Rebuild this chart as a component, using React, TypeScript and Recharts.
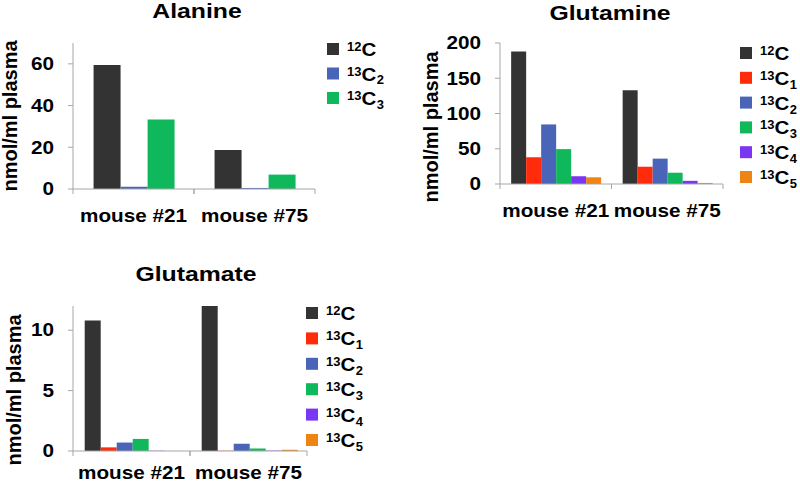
import React from "react";
import { BarChart, Bar, XAxis, YAxis } from "recharts";

const mice = ["mouse #21", "mouse #75"];

const alanine12C = [59.5, 18.7];
const alanine13C2 = [1.1, 0.5];
const alanine13C3 = [33.3, 6.9];
const alanineTicks = [0, 20, 40, 60];

const glutamine12C = [188, 133];
const glutamine13C1 = [38, 24.5];
const glutamine13C2 = [84.5, 36];
const glutamine13C3 = [49.5, 16];
const glutamine13C4 = [11, 4.5];
const glutamine13C5 = [9.5, 1.5];
const glutamineTicks = [0, 50, 100, 150, 200];

const glutamate12C = [10.8, 12.0];
const glutamate13C1 = [0.3, 0.02];
const glutamate13C2 = [0.7, 0.6];
const glutamate13C3 = [1.0, 0.2];
const glutamate13C4 = [0.02, 0.03];
const glutamate13C5 = [0, 0.1];
const glutamateTicks = [0, 5, 10];

const colors: Record<string, string> = {
  "12C": "#333333",
  "13C1": "#ff2b0a",
  "13C2": "#4a64b8",
  "13C3": "#10b85c",
  "13C4": "#7a36f2",
  "13C5": "#ee8414",
};

const FONT = "'Liberation Sans', Arial, sans-serif";
const AXIS = "#a6a6a6";
const YW = 60;
const XH = 30;

type Series = { key: string; values: number[] };

const YTick = ({ x, y, payload }: any) => (
  <text transform={`translate(${x},${y}) scale(1.15,1)`} textAnchor="end" dy="0.35em"
    fontSize={18} fontWeight={700} fontFamily={FONT} fill="#000">{payload.value}</text>
);

function Panel({ title, series, ticks, yMax, box, plot, gap, legend, titlePos, yLabel, labelDy = 28 }: any) {
  const data = mice.map((m, i) => {
    const row: any = { mouse: m };
    series.forEach((s: Series) => { row[s.key] = s.values[i]; });
    return row;
  });
  const half = (plot.x1 - plot.x0) / mice.length / 2;
  const XTick = ({ x, y, payload }: any) => (
    <g>
      <line x1={x - half} x2={x - half} y1={y - 5} y2={y} stroke={AXIS} />
      <line x1={x + half} x2={x + half} y1={y - 5} y2={y} stroke={AXIS} />
      <text transform={`translate(${x},${y + labelDy}) scale(1.15,1)`} textAnchor="middle"
        fontSize={18} fontWeight={700} fontFamily={FONT} fill="#000">{payload.value}</text>
    </g>
  );
  return (
    <div style={{ position: "absolute", left: box.left, top: box.top, width: box.width, height: box.height }}>
      <BarChart width={box.width} height={box.height} data={data} barCategoryGap={gap} barGap={0}
        margin={{ left: plot.x0 - YW, right: box.width - plot.x1, top: plot.y0, bottom: box.height - plot.y1 - XH }}>
        <XAxis dataKey="mouse" height={XH} tickSize={5} tickMargin={0} tickLine={false}
          axisLine={{ stroke: AXIS }} tick={<XTick />} interval={0} />
        <YAxis type="number" domain={[0, yMax]} ticks={ticks} width={YW} tickSize={5} tickMargin={14}
          axisLine={{ stroke: AXIS }} tickLine={{ stroke: AXIS }} tick={<YTick />} allowDataOverflow />
        {series.map((s: Series) => (
          <Bar key={s.key} dataKey={s.key} fill={colors[s.key]} isAnimationActive={false} />
        ))}
      </BarChart>
      <svg width={box.width} height={box.height} style={{ position: "absolute", left: 0, top: 0, pointerEvents: "none" }}>
        <text transform={`translate(${titlePos.x},${titlePos.y}) scale(1.18,1)`} textAnchor="middle"
          fontSize={21} fontWeight={700} fontFamily={FONT}>{title}</text>
        <text transform={`translate(${yLabel.x},${yLabel.y}) rotate(-90)`} textAnchor="middle"
          fontSize={20} fontWeight={700} fontFamily={FONT}>nmol/ml plasma</text>
        {series.map((s: Series, i: number) => {
          const m = s.key.match(/^(\d+)C(\d*)$/) || ["", "", ""];
          const cy = legend.y0 + i * legend.step;
          return (
            <g key={s.key}>
              <rect x={legend.x} y={cy - 6} width={12} height={12} fill={colors[s.key]} />
              <g transform={`translate(${legend.x + 20},${cy}) scale(1.08,1)`} fontFamily={FONT} fontWeight={700}>
                <text x={0} y={2} fontSize={12}>{m[1]}</text>
                <text x={13.5} y={7} fontSize={19}>C</text>
                {m[2] && <text x={27.5} y={11} fontSize={12}>{m[2]}</text>}
              </g>
            </g>
          );
        })}
      </svg>
    </div>
  );
}

export default function App() {
  return (
    <div style={{ position: "absolute", left: 0, top: 0, width: 800, height: 485, background: "#fff", overflow: "hidden" }}>
      <Panel
        title="Alanine"
        series={[
          { key: "12C", values: alanine12C },
          { key: "13C2", values: alanine13C2 },
          { key: "13C3", values: alanine13C3 },
        ]}
        ticks={alanineTicks} yMax={70}
        box={{ left: 0, top: 0, width: 400, height: 240 }}
        plot={{ x0: 73, x1: 315, y0: 43, y1: 189 }}
        gap="17%"
        legend={{ x: 327, y0: 49, step: 24.5 }}
        titlePos={{ x: 197, y: 18 }}
        yLabel={{ x: 17, y: 116 }}
      />
      <Panel
        title="Glutamine"
        series={[
          { key: "12C", values: glutamine12C },
          { key: "13C1", values: glutamine13C1 },
          { key: "13C2", values: glutamine13C2 },
          { key: "13C3", values: glutamine13C3 },
          { key: "13C4", values: glutamine13C4 },
          { key: "13C5", values: glutamine13C5 },
        ]}
        ticks={glutamineTicks} yMax={200}
        box={{ left: 400, top: 0, width: 400, height: 240 }}
        plot={{ x0: 100, x1: 323, y0: 43, y1: 184 }}
        gap="10%"
        legend={{ x: 340, y0: 53, step: 24.8 }}
        titlePos={{ x: 210, y: 20 }}
        yLabel={{ x: 38, y: 127 }}
      />
      <Panel
        title="Glutamate"
        series={[
          { key: "12C", values: glutamate12C },
          { key: "13C1", values: glutamate13C1 },
          { key: "13C2", values: glutamate13C2 },
          { key: "13C3", values: glutamate13C3 },
          { key: "13C4", values: glutamate13C4 },
          { key: "13C5", values: glutamate13C5 },
        ]}
        ticks={glutamateTicks} yMax={12}
        box={{ left: 0, top: 240, width: 400, height: 245 }}
        plot={{ x0: 73, x1: 307, y0: 66, y1: 211 }}
        gap="10%"
        legend={{ x: 306, y0: 73, step: 25.4 }}
        titlePos={{ x: 196, y: 41 }}
        yLabel={{ x: 21, y: 150 }}
        labelDy={23}
      />
    </div>
  );
}
